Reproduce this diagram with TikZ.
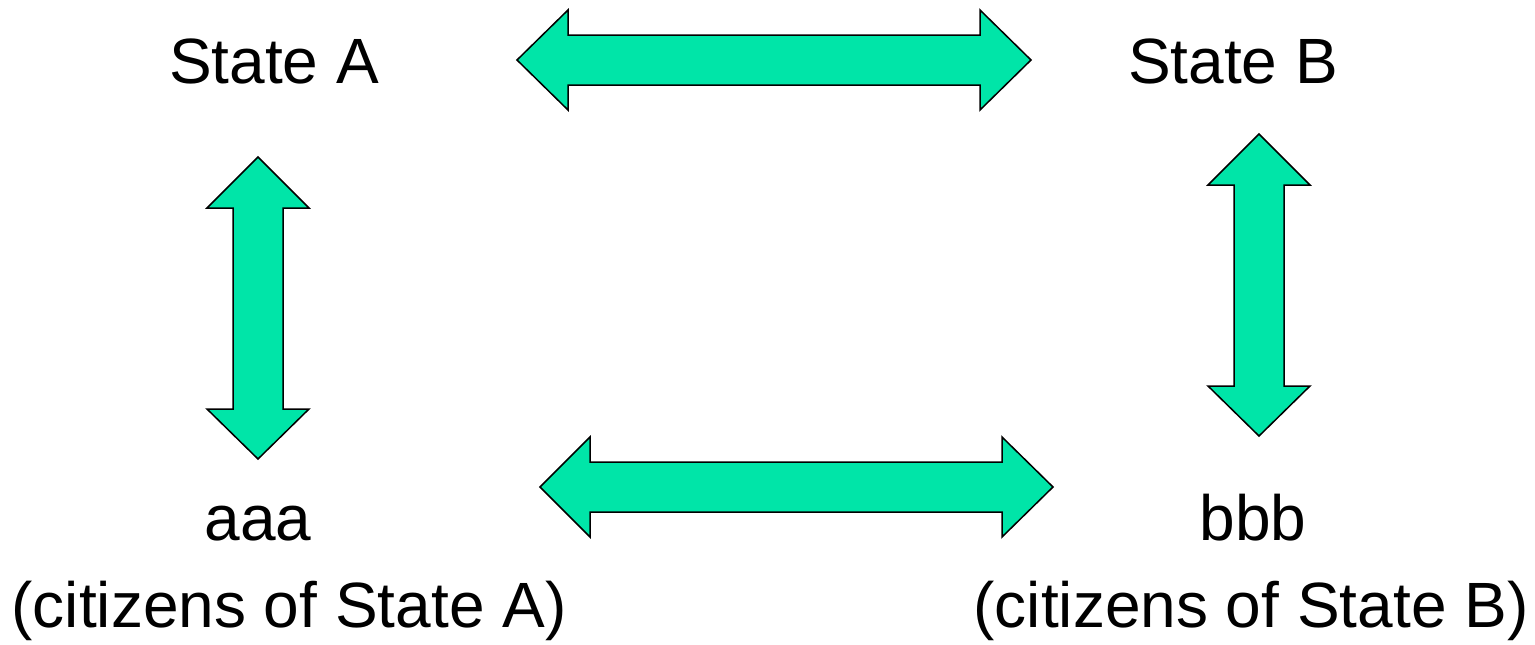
\documentclass[tikz,border=0pt]{standalone}
\usepackage{fontspec}
\setmainfont{Liberation Sans}
\definecolor{arrowgreen}{HTML}{00E5A8}
\begin{document}
\begin{tikzpicture}[x=1pt,y=-1pt,
  blockarrow/.style={fill=arrowgreen,draw=black,line width=1.5pt,line join=miter},
  label/.style={anchor=base,inner sep=0pt,font=\fontsize{64}{70}\selectfont}]
\useasboundingbox (0,0) rectangle (1535,645);
% arrows
\draw[blockarrow] (517,60) -- (568,10) -- (568,35) -- (980,35) -- (980,10) -- (1031,60) -- (980,110) -- (980,85) -- (568,85) -- (568,110) -- cycle;
\draw[blockarrow] (540,487) -- (590,437) -- (590,462) -- (1002,462) -- (1002,437) -- (1053,487) -- (1002,537) -- (1002,512) -- (590,512) -- (590,537) -- cycle;
\draw[blockarrow] (258,157) -- (309,208) -- (283,208) -- (283,409) -- (309,409) -- (258,459) -- (207,409) -- (233,409) -- (233,208) -- (207,208) -- cycle;
\draw[blockarrow] (1259,134) -- (1310,185) -- (1284,185) -- (1284,386) -- (1310,386) -- (1259,436) -- (1208,386) -- (1234,386) -- (1234,185) -- (1208,185) -- cycle;
% texts
\node[label] (sa) at (274,83) {State A};
\node[label] (sb) at (1233,83) {State B};
\node[label] (aaa) at (258,540) {aaa};
\node[label] (bbb) at (1253,540) {bbb};
\node[label] (ca) at (289,627) {(citizens of State A)};
\node[label] (cb) at (1251,627) {(citizens of State B)};
\end{tikzpicture}
\end{document}
